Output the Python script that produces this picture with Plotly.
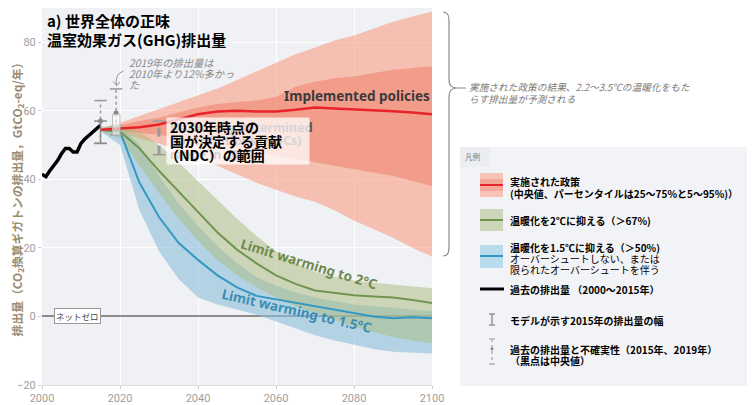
import plotly.graph_objects as go

# ---------------- data ----------------
hist_years = list(range(2000, 2016))
hist_emissions = [41.5, 40.8, 42.5, 44, 45.5, 47.5, 49, 49, 48, 48, 50.5, 51.8, 52.8, 53.8, 55, 55.8]

proj_years = [2015, 2020, 2025, 2030, 2035, 2040, 2045, 2050, 2055, 2060,
              2065, 2070, 2075, 2080, 2085, 2090, 2095, 2100]

impl_median = [54.5, 54.8, 55.2, 56, 57.5, 59, 59.8, 60, 59.8, 59.8, 60.3, 61, 60.7, 60.5, 60.2, 59.9, 59.5, 59]
impl_p95 = [55, 56.5, 58.5, 60.5, 62.5, 64.5, 66.5, 69, 71.5, 74, 76.5, 78.5, 80.5, 82, 84, 86, 87.5, 89]
impl_p75 = [54.8, 56, 57, 58, 59.5, 61, 62, 62.5, 63, 64, 67, 68.5, 69.5, 70, 71, 72, 72.5, 73]
impl_p25 = [54.2, 54, 53.5, 53, 52, 51, 50, 49, 48, 47, 46, 45, 44, 43, 42, 41, 39.5, 38]
impl_p5 = [54, 53.5, 52, 50.5, 48.5, 46.5, 44, 41.5, 39, 37, 35, 33.5, 31, 28, 25.5, 23, 20, 17.5]

c2_median = [54.5, 54, 49, 42.5, 36.5, 30.5, 24.5, 19.5, 15.5, 12, 9.5, 7.6, 6.8, 6.2, 5.8, 5.5, 4.8, 3.9]
c2_high = [55, 56, 54, 50, 45, 39.5, 34, 28.5, 23.5, 19, 15.5, 13, 11.5, 10.5, 9.8, 9.2, 8.7, 8.2]
c2_low = [54, 52, 44, 36, 28.5, 22, 16.5, 12, 8.5, 5.5, 3, 1, -1, -3, -4.5, -6, -7, -7.8]

c15_median = [54.5, 54, 39, 29, 21.5, 16.5, 12, 8.5, 6, 5, 4, 2.8, 2, 1, 0, -0.5, -0.2, -0.5]
c15_high = [55, 56, 50, 41, 33, 26.5, 20.5, 15.5, 11.5, 9, 7, 5.5, 4.5, 3.5, 3, 2.5, 2, 1.5]
c15_low = [54, 50, 31, 19, 11, 5.5, 3.5, 2, 0.5, -1.5, -3.5, -5.5, -7, -8.3, -9.5, -10.3, -10.5, -10.8]

model_range_year = [2015, 2015]
model_range_vals = [50.5, 57]
unc_years = [2015, 2019]
unc_low = [50.5, 53]
unc_high = [63, 66.4]
unc_mid = [57, 59.4]
ndc_year = [2030, 2030]
ndc_vals = [47.2, 57]

x_ticks = [2000, 2020, 2040, 2060, 2080, 2100]
y_ticks = [-20, 0, 20, 40, 60, 80]

# ---------------- layout helpers ----------------
OFF = 8  # page body margin
W, H = 756 - OFF, 405 - OFF
ML, MR, MT, MB = 34, 324, 0, 20


def px(x):
    return ((x - OFF) - ML) / (W - ML - MR)


def py(y):
    return (H - MB - (y - OFF)) / (H - MT - MB)


JP = "Noto Sans CJK JP"
fig = go.Figure()


def band(lo, hi, color):
    fig.add_trace(go.Scatter(x=proj_years, y=lo, mode="lines", line=dict(width=0),
                             showlegend=False, hoverinfo="skip"))
    fig.add_trace(go.Scatter(x=proj_years, y=hi, mode="lines", line=dict(width=0),
                             fill="tonexty", fillcolor=color, showlegend=False, hoverinfo="skip"))


band(impl_p5, impl_p95, "rgba(250,150,122,0.55)")
band(impl_p25, impl_p75, "rgba(239,121,99,0.5)")
band(c15_low, c15_high, "rgba(139,191,219,0.6)")
band(c2_low, c2_high, "rgba(171,185,124,0.5)")

fig.add_trace(go.Scatter(x=proj_years, y=c15_median, mode="lines",
                         line=dict(color="#3499c2", width=2), showlegend=False))
fig.add_trace(go.Scatter(x=proj_years, y=c2_median, mode="lines",
                         line=dict(color="#6f9650", width=2), showlegend=False))
fig.add_trace(go.Scatter(x=proj_years, y=impl_median, mode="lines",
                         line=dict(color="#e8232b", width=2.5), showlegend=False))
fig.add_trace(go.Scatter(x=hist_years, y=hist_emissions, mode="lines",
                         line=dict(color="black", width=3.5), showlegend=False))

# light box at 2019
fig.add_shape(type="rect", x0=2018.1, x1=2020.0, y0=unc_low[1], y1=unc_mid[1] - 0.5,
              fillcolor="rgba(255,255,255,0.55)", line=dict(color="#bbbbbb", width=1))

# uncertainty bars (dotted)
for i in range(len(unc_years)):
    fig.add_trace(go.Scatter(x=[unc_years[i], unc_years[i]], y=[unc_low[i], unc_high[i]],
                             mode="lines+markers",
                             line=dict(color="#9a9a9a", width=1.5, dash="dot"),
                             marker=dict(symbol="line-ew-open", size=9,
                                         line=dict(color="#9a9a9a", width=1.5)),
                             showlegend=False))
    fig.add_trace(go.Scatter(x=[unc_years[i]], y=[unc_mid[i]], mode="markers",
                             marker=dict(color="#8a8a8a", size=5), showlegend=False))
# model range 2015 (solid)
fig.add_trace(go.Scatter(x=model_range_year, y=model_range_vals, mode="lines+markers",
                         line=dict(color="#8a8a8a", width=1.5),
                         marker=dict(symbol="line-ew-open", size=9,
                                     line=dict(color="#8a8a8a", width=1.5)),
                         showlegend=False))
# NDC range
fig.add_trace(go.Scatter(x=ndc_year, y=ndc_vals, mode="lines+markers",
                         line=dict(color="#9a9a9a", width=3, dash="dash"),
                         marker=dict(symbol="line-ew-open", size=9,
                                     line=dict(color="#9a9a9a", width=1.5)),
                         showlegend=False))

# curved arrow for 2019 note
fig.add_shape(type="path", path="M 2020.9,71.6 Q 2018.6,70.8 2019.1,67.4",
              line=dict(color="#999999", width=1))
fig.add_shape(type="path", path="M 2018.3,68.6 L 2019.1,67.4 L 2020.0,68.4",
              line=dict(color="#999999", width=1))


def P(x, y):
    return f"{px(x):.5f},{py(y):.5f}"


# right brace
brace = (f"M {P(443,12)} Q {P(449,12)} {P(449,20)} L {P(449,80)} Q {P(449,88)} {P(457,88)} "
         f"L {P(466,88)} M {P(457,88)} Q {P(449,88)} {P(449,96)} L {P(449,248)} "
         f"Q {P(449,256)} {P(443,256)}")
fig.add_shape(type="path", xref="paper", yref="paper", path=brace,
              line=dict(color="#8a8a8a", width=1.2))

# legend panel
fig.add_shape(type="rect", xref="paper", yref="paper", x0=px(460), x1=px(747), y0=py(386), y1=py(147),
              fillcolor="#f2f3f6", line=dict(width=0), layer="below")
fig.add_shape(type="rect", xref="paper", yref="paper", x0=px(460), x1=px(490), y0=py(167), y1=py(147),
              fillcolor="#ebedf1", line=dict(width=0), layer="below")
# swatches
fig.add_shape(type="rect", xref="paper", yref="paper", x0=px(480), x1=px(503), y0=py(197), y1=py(173),
              fillcolor="#f7c3b7", line=dict(width=0))
fig.add_shape(type="rect", xref="paper", yref="paper", x0=px(480), x1=px(503), y0=py(191), y1=py(179),
              fillcolor="#f3a898", line=dict(width=0))
fig.add_shape(type="line", xref="paper", yref="paper", x0=px(480), x1=px(503), y0=py(185), y1=py(185),
              line=dict(color="#e8232b", width=2))
fig.add_shape(type="rect", xref="paper", yref="paper", x0=px(480), x1=px(503), y0=py(231), y1=py(209),
              fillcolor="#cdd6ba", line=dict(width=0))
fig.add_shape(type="line", xref="paper", yref="paper", x0=px(480), x1=px(503), y0=py(220), y1=py(220),
              line=dict(color="#6f9650", width=2))
fig.add_shape(type="rect", xref="paper", yref="paper", x0=px(480), x1=px(503), y0=py(268), y1=py(245),
              fillcolor="#b8dbee", line=dict(width=0))
fig.add_shape(type="line", xref="paper", yref="paper", x0=px(480), x1=px(503), y0=py(256), y1=py(256),
              line=dict(color="#3499c2", width=2))
fig.add_shape(type="line", xref="paper", yref="paper", x0=px(480), x1=px(504), y0=py(289), y1=py(289),
              line=dict(color="black", width=3))
# I bar
for (x0, y0, x1, y1) in [(492, 314, 492, 325), (489, 314, 495, 314), (489, 325, 495, 325)]:
    fig.add_shape(type="line", xref="paper", yref="paper", x0=px(x0), x1=px(x1), y0=py(y0), y1=py(y1),
                  line=dict(color="#888888", width=1.3))
# dotted bar
fig.add_shape(type="line", xref="paper", yref="paper", x0=px(492), x1=px(492), y0=py(339), y1=py(364),
              line=dict(color="#aaaaaa", width=1.3, dash="dot"))
for yy in (339, 364):
    fig.add_shape(type="line", xref="paper", yref="paper", x0=px(489), x1=px(495), y0=py(yy), y1=py(yy),
                  line=dict(color="#aaaaaa", width=1.2))
fig.add_shape(type="circle", xref="paper", yref="paper", x0=px(490.5), x1=px(493.5), y0=py(350.5), y1=py(347.5),
              fillcolor="#888888", line=dict(width=0))

ann = []


def A(x, y, text, size=10, color="black", bold=False, xref="paper", yref="paper", **kw):
    d = dict(x=x, y=y, xref=xref, yref=yref, text=text, showarrow=False,
             font=dict(family=kw.pop("family", JP), size=size, color=color,
                       weight="bold" if bold else "normal", style=kw.pop("style", "normal")),
             xanchor=kw.pop("xanchor", "left"), yanchor=kw.pop("yanchor", "middle"))
    d.update(kw)
    ann.append(d)


# title
A(px(45), py(20), "a) 世界全体の正味", size=15, bold=True)
A(px(45), py(40), "温室効果ガス(GHG)排出量", size=15, bold=True)
# 2019 note
A(px(127), py(62), "2019年の排出量は", size=10.3, color="#8a8a8a", style="italic")
A(px(127), py(73), "2010年より12%多かっ", size=10.3, color="#8a8a8a", style="italic")
A(px(127), py(84), "た", size=10.3, color="#8a8a8a", style="italic")
# implemented policies label
A(px(357), py(96), "Implemented policies", size=13.5, color="#3a3a3a", bold=True,
  xanchor="center", family="Noto Sans")
# limit warming labels
A(2068.5, 15.3, "Limit warming to 2°C", size=13.5, color="#6f8a4c", bold=True,
  xref="x", yref="y", xanchor="center", textangle=17, family="Noto Sans")
A(2065.5, 1.5, "Limit warming to 1.5°C", size=13.5, color="#3a8db3", bold=True,
  xref="x", yref="y", xanchor="center", textangle=13, family="Noto Sans")
# net zero
A(2009, 0, "ネットゼロ", size=8.5, color="#444444", xref="x", yref="y", xanchor="center",
  bgcolor="white", bordercolor="#999999", borderwidth=1, borderpad=1)
# NDC labels (English underneath, Japanese on top)
A(px(168), py(127), "Nationally Determined", size=12.5, color="#555555", bold=True, family="Noto Sans")
A(px(168), py(141), "Contributions (NDCs)", size=12.5, color="#555555", bold=True, family="Noto Sans")
A(px(168), py(155), "range in 2030", size=12.5, color="#555555", bold=True, family="Noto Sans")
A(px(166), py(141), "&nbsp;", size=10, bgcolor="rgba(255,255,255,0.75)", width=140, height=44)
A(px(168), py(127), "2030年時点の", size=14, bold=True)
A(px(168), py(141), "国が決定する貢献", size=14, bold=True)
A(px(163), py(155), "（NDC）の範囲", size=14, bold=True)
# right note
A(px(467), py(87), "実施された政策の結果、2.2～3.5℃の温暖化をもた", size=9.7, color="#7a7a7a", style="italic")
A(px(467), py(99), "らす排出量が予測される", size=9.7, color="#7a7a7a", style="italic")
# legend text
A(px(463), py(156), "凡例", size=7.5, color="#777777")
A(px(508), py(181), "実施された政策", bold=True)
A(px(508), py(193), "(中央値、パーセンタイルは25～75%と5～95%)）", bold=True)
A(px(508), py(220), "温暖化を2℃に抑える（＞67%)", bold=True)
A(px(508), py(247), "温暖化を1.5℃に抑える（＞50%)", bold=True)
A(px(508), py(259), "オーバーシュートしない、または")
A(px(508), py(270), "限られたオーバーシュートを伴う")
A(px(508), py(289), "過去の排出量 （2000～2015年）", bold=True)
A(px(508), py(320), "モデルが示す2015年の排出量の幅", bold=True)
A(px(508), py(349), "過去の排出量と不確実性（2015年、2019年）", bold=True)
A(px(508), py(360), "（黒点は中央値）", bold=True)

fig.update_layout(
    width=W, height=H,
    margin=dict(l=ML, r=MR, t=MT, b=MB, pad=0, autoexpand=False),
    paper_bgcolor="white",
    plot_bgcolor="#eff1f4",
    showlegend=False,
    annotations=ann,
    font=dict(family=JP),
)
fig.update_xaxes(range=[2000, 2100], tickvals=x_ticks, showgrid=True, gridcolor="white", gridwidth=1,
                 zeroline=False, tickfont=dict(family="Roboto", size=11, color="#a0a0a0"),
                 ticks="outside", ticklen=3, tickcolor="#cccccc", showline=True, linecolor="#dddddd",
                 automargin=False)
fig.update_yaxes(range=[-20, 90], tickvals=y_ticks, showgrid=True, gridcolor="white", gridwidth=1,
                 zeroline=True, zerolinecolor="#8c8c8c", zerolinewidth=1.5,
                 tickfont=dict(family="Roboto", size=11, color="#a0a0a0"),
                 ticks="outside", ticklen=3, tickcolor="#cccccc", automargin=False,
                 title=dict(text="排出量（CO<sub>2</sub>換算ギガトンの排出量，GtCO<sub>2</sub>-eq/年）",
                            font=dict(family=JP, size=11.8, color="#9a8c72", weight="bold"),
                            standoff=4))

fig.write_html("out.html")
